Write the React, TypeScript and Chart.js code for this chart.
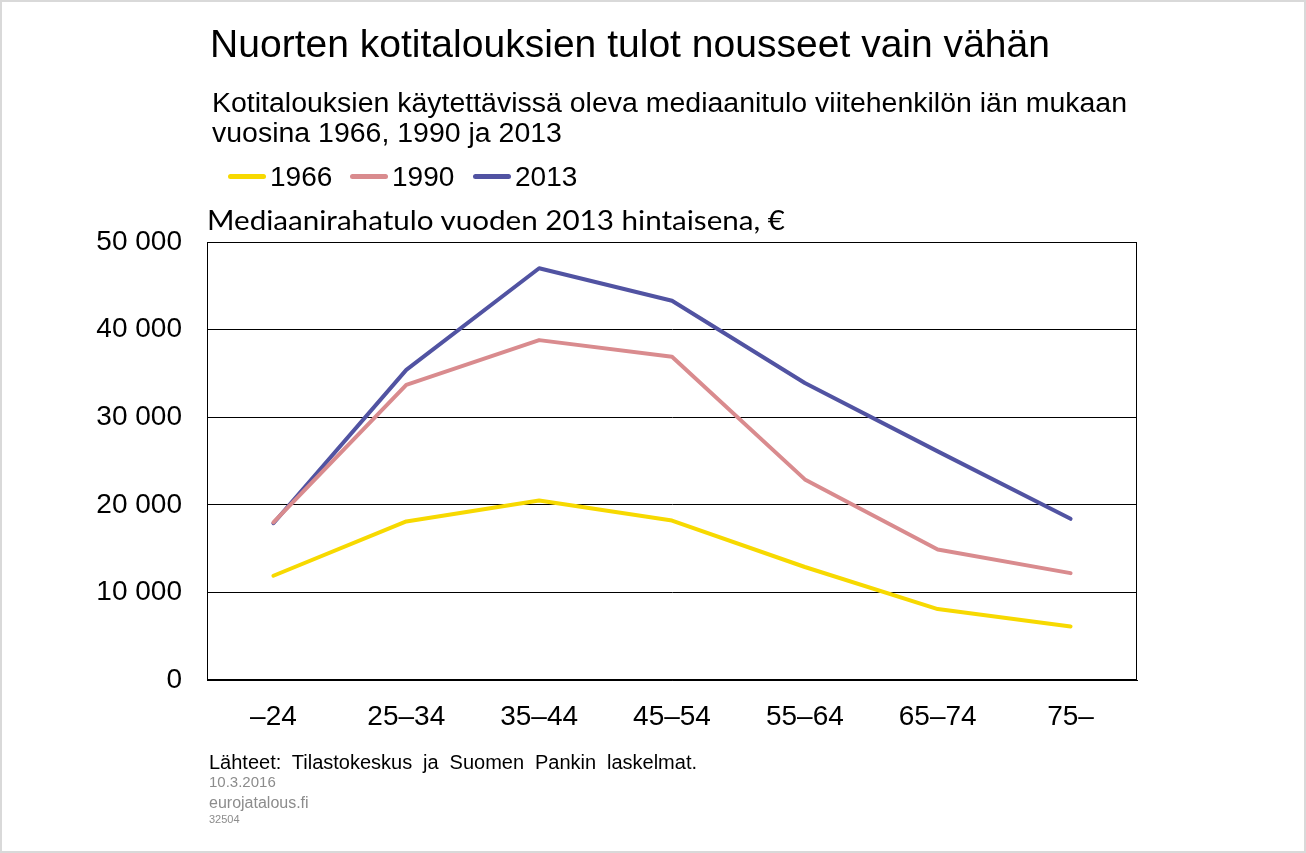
import React, { useEffect, useLayoutEffect, useRef } from 'react';
import { Chart, registerables } from 'chart.js';

Chart.register(...registerables);

const categories = ['–24', '25–34', '35–44', '45–54', '55–64', '65–74', '75–'];
const values1966 = [11900, 18100, 20500, 18200, 12900, 8100, 6100];
const values1990 = [18000, 33700, 38800, 36900, 22900, 14900, 12200];
const values2013 = [17900, 35400, 47000, 43300, 33900, 26100, 18400];
const seriesNames = ['1966', '1990', '2013'];
const seriesColors = ['#F7D900', '#D98B8E', '#5153A2'];
const yMin = 0;
const yMax = 50000;
const yStep = 10000;

const titleText = 'Nuorten kotitalouksien tulot nousseet vain vähän';
const subtitleLines = [
  'Kotitalouksien käytettävissä oleva mediaanitulo viitehenkilön iän mukaan',
  'vuosina 1966, 1990 ja 2013',
];
const axisTitleText = 'Mediaanirahatulo vuoden 2013 hintaisena, €';
const sourceText = 'Lähteet: Tilastokeskus ja Suomen Pankin laskelmat.';
const dateText = '10.3.2016';
const siteText = 'eurojatalous.fi';
const idText = '32504';

const ARIAL = '"Liberation Sans", Arial, sans-serif';

function fmt(v: number): string {
  return String(Math.round(v)).replace(/\B(?=(\d{3})+(?!\d))/g, ' ');
}

type FitProps = { text: string; width: number; mode?: 'scale' | 'space'; style?: React.CSSProperties };

function FitText({ text, width, mode = 'scale', style }: FitProps) {
  const ref = useRef<HTMLSpanElement>(null);
  useLayoutEffect(() => {
    const el = ref.current;
    if (!el) return;
    el.style.transform = '';
    el.style.wordSpacing = '';
    const w = el.getBoundingClientRect().width;
    if (!w) return;
    if (mode === 'space') {
      const n = (text.match(/ /g) || []).length;
      if (n) el.style.wordSpacing = (width - w) / n + 'px';
    } else {
      el.style.transform = `scaleX(${width / w})`;
    }
  }, [text, width, mode]);
  return (
    <span
      ref={ref}
      style={{ display: 'inline-block', whiteSpace: 'nowrap', transformOrigin: '0 0', ...style }}
    >
      {text}
    </span>
  );
}

function FitBlock({ lines, width, lineHeight }: { lines: string[]; width: number; lineHeight: number }) {
  const boxRef = useRef<HTMLDivElement>(null);
  const firstRef = useRef<HTMLSpanElement>(null);
  useLayoutEffect(() => {
    const box = boxRef.current;
    const first = firstRef.current;
    if (!box || !first) return;
    box.style.transform = '';
    const w = first.getBoundingClientRect().width;
    if (w) box.style.transform = `scaleX(${width / w})`;
  }, [lines, width]);
  return (
    <div ref={boxRef} style={{ transformOrigin: '0 0', lineHeight: lineHeight + 'px' }}>
      {lines.map((l, i) => (
        <div key={i}>
          <span ref={i === 0 ? firstRef : undefined} style={{ display: 'inline-block', whiteSpace: 'nowrap' }}>
            {l}
          </span>
        </div>
      ))}
    </div>
  );
}

function Abs({ left, top, children, style }: { left: number; top: number; children: React.ReactNode; style?: React.CSSProperties }) {
  return (
    <div style={{ position: 'absolute', left, top, lineHeight: 1, whiteSpace: 'nowrap', ...style }}>{children}</div>
  );
}

export default function App() {
  const canvasRef = useRef<HTMLCanvasElement>(null);

  useEffect(() => {
    const canvas = canvasRef.current;
    if (!canvas) return;
    const frame = {
      id: 'frame',
      afterDatasetsDraw(chart: any) {
        const { ctx, chartArea } = chart;
        ctx.save();
        ctx.strokeStyle = '#000';
        ctx.lineWidth = 1;
        const l = Math.round(chartArea.left) + 0.5;
        const t = Math.round(chartArea.top) + 0.5;
        const r = Math.round(chartArea.right) - 0.5;
        const b = Math.round(chartArea.bottom) - 0.5;
        ctx.strokeRect(l, t, r - l, b - t);
        ctx.restore();
      },
    };
    const data = [values1966, values1990, values2013];
    const chart = new Chart(canvas, {
      type: 'line',
      data: {
        labels: categories,
        datasets: seriesNames.map((name, i) => ({
          label: name,
          data: data[i],
          borderColor: seriesColors[i],
          backgroundColor: seriesColors[i],
          borderWidth: 4,
          pointRadius: 0,
          pointHoverRadius: 0,
          tension: 0,
          borderCapStyle: 'round' as const,
          borderJoinStyle: 'round' as const,
          fill: false,
        })),
      },
      options: {
        animation: false,
        responsive: false,
        maintainAspectRatio: false,
        layout: { padding: { left: 0, top: 242, right: 169, bottom: 0 } },
        plugins: {
          legend: { display: false },
          title: { display: false },
          tooltip: { enabled: false },
        },
        scales: {
          x: {
            offset: true,
            grid: { display: false, drawTicks: false },
            border: { display: true, color: '#000', width: 1 },
            ticks: { color: '#000', font: { family: ARIAL, size: 28 }, padding: 20, maxRotation: 0 },
            afterFit: (s: any) => {
              s.height = 173;
            },
          },
          y: {
            min: yMin,
            max: yMax,
            grid: { color: '#000', lineWidth: 1, drawTicks: false },
            border: { display: true, color: '#000', width: 1 },
            ticks: {
              stepSize: yStep,
              color: '#000',
              font: { family: ARIAL, size: 28 },
              padding: 25,
              callback: (v: any) => fmt(Number(v)),
            },
            afterFit: (s: any) => {
              s.width = 207;
            },
          },
        },
      },
      plugins: [frame],
    });
    return () => chart.destroy();
  }, []);

  const legendX = [228, 350, 473];

  return (
    <div
      style={{
        position: 'absolute',
        left: 0,
        top: 0,
        width: 1306,
        height: 853,
        boxSizing: 'border-box',
        border: '2px solid #d9d9d9',
        background: '#fff',
        overflow: 'hidden',
        fontFamily: ARIAL,
        color: '#000',
      }}
    >
      <canvas
        ref={canvasRef}
        width={1306}
        height={853}
        style={{ position: 'absolute', left: -2, top: -2, width: 1306, height: 853 }}
      />
      <Abs left={208} top={22} style={{ fontSize: 39 }}>
        <FitText text={titleText} width={840} />
      </Abs>
      <Abs left={210} top={86} style={{ fontSize: 27 }}>
        <FitBlock lines={subtitleLines} width={915} lineHeight={30} />
      </Abs>
      {seriesNames.map((name, i) => (
        <React.Fragment key={name}>
          <div
            style={{
              position: 'absolute',
              left: legendX[i] - 2,
              top: 172,
              width: 38,
              height: 5,
              borderRadius: 2.5,
              background: seriesColors[i],
            }}
          />
          <Abs left={legendX[i] + 40} top={161} style={{ fontSize: 28 }}>
            {name}
          </Abs>
        </React.Fragment>
      ))}
      <Abs left={205} top={205} style={{ fontSize: 26, fontFamily: 'Lato, "Open Sans", sans-serif' }}>
        <FitText text={axisTitleText} width={578} />
      </Abs>
      <Abs left={207} top={750} style={{ fontSize: 20 }}>
        <FitText text={sourceText} width={488} mode="space" />
      </Abs>
      <Abs left={207} top={772} style={{ fontSize: 15, color: '#8c8c8c' }}>
        {dateText}
      </Abs>
      <Abs left={207} top={793} style={{ fontSize: 16, color: '#8c8c8c' }}>
        {siteText}
      </Abs>
      <Abs left={207} top={812} style={{ fontSize: 11, color: '#8c8c8c' }}>
        {idText}
      </Abs>
    </div>
  );
}
